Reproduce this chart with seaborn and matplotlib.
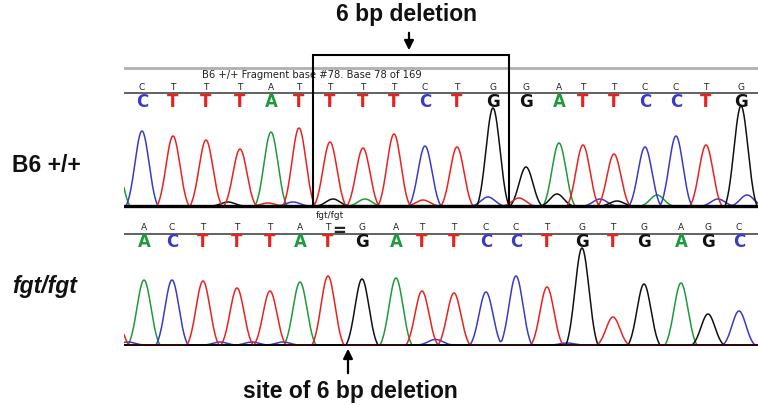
import numpy as np
import pandas as pd
import matplotlib.pyplot as plt
import seaborn as sns
from matplotlib.patches import Rectangle, FancyArrowPatch

# -------------------------------
# Data
# -------------------------------

# wild type (B6 +/+) called bases, peak scan positions and peak heights
top_bases = list("CTTTATTTTCTGGATTCCTG")
top_pos = [142, 173, 206, 240, 271, 299, 330, 363, 394, 425,
           457, 493, 526, 559, 583, 614, 645, 676, 706, 741]
top_height = [75, 70, 66, 57, 74, 78, 64, 58, 72, 60,
              59, 98, 39, 63, 61, 52, 59, 70, 61, 100]

# small background peaks in the wild type trace
top_minor_bases = ["A", "G", "T", "C", "G", "A", "T", "C", "T", "G", "C", "G", "A", "C", "C"]
top_minor_pos = [114, 228, 268, 293, 333, 365, 423, 488, 519, 557, 600, 617, 657, 718, 747]
top_minor_height = [60, 4, 3, 4, 7, 7, 6, 9, 8, 12, 7, 5, 11, 7, 11]

# mutant (fgt/fgt) trace
bot_bases = list("ACTTTATGATTCCTGTGAGC")
bot_pos = [144, 172, 203, 237, 270, 300, 328, 362, 396, 422,
           454, 486, 516, 547, 582, 613, 644, 681, 708, 739]
bot_height = [65, 65, 64, 57, 54, 63, 69, 66, 67, 54,
              52, 53, 69, 58, 97, 28, 61, 62, 31, 34]

bot_minor_bases = ["T", "C", "C", "C", "C", "C", "C", "C"]
bot_minor_pos = [113, 128, 220, 252, 283, 433, 438, 567]
bot_minor_height = [45, 3, 3, 3, 3, 3, 3, 2]

BASE_COLORS = {"A": "#1e9a3a", "C": "#3a3ac8", "G": "#111111", "T": "#e8231f"}

# -------------------------------
# Build traces
# -------------------------------

SIGMA = 7.0
REACH = 16.0
scan = np.arange(124, 758.5, 0.5)


def peak_shape(d):
    # gaussian cut down so it meets the baseline at +/- REACH
    g = np.exp(-0.5 * (d / SIGMA) ** 2)
    floor = np.exp(-0.5 * (REACH / SIGMA) ** 2)
    return np.clip((g - floor) / (1 - floor), 0, None)


def build_trace(bases, pos, height):
    rows = []
    for ch in "ACGT":
        sig = np.zeros_like(scan)
        for b, p, h in zip(bases, pos, height):
            if b == ch:
                sig += h * peak_shape(scan - p)
        rows.append(pd.DataFrame({"scan": scan, "signal": sig, "channel": ch}))
    return pd.concat(rows, ignore_index=True)


top_df = build_trace(top_bases + top_minor_bases,
                     top_pos + top_minor_pos,
                     top_height + top_minor_height)
bot_df = build_trace(bot_bases + bot_minor_bases,
                     bot_pos + bot_minor_pos,
                     bot_height + bot_minor_height)

# -------------------------------
# Figure
# -------------------------------

sns.set_theme(style="white")
plt.rcParams["font.family"] = ["Liberation Sans", "DejaVu Sans"]

W, H = 758, 406
fig = plt.figure(figsize=(W / 100, H / 100), dpi=100)


def fx(px):
    return px / W


def fy(py):
    return 1 - py / H


ax_top = fig.add_axes([fx(124), fy(212), fx(758) - fx(124), 160 / H])
ax_bot = fig.add_axes([fx(124), fy(351), fx(758) - fx(124), 151 / H])
for ax in (ax_top, ax_bot):
    ax.set_facecolor("none")
    ax.set_xlim(124, 758)
    ax.axis("off")
ax_top.set_ylim(-5, 155)
ax_bot.set_ylim(-5, 146)

sns.lineplot(data=top_df, x="scan", y="signal", hue="channel", palette=BASE_COLORS,
             estimator=None, legend=False, lw=1.1, ax=ax_top, zorder=2)
sns.lineplot(data=bot_df, x="scan", y="signal", hue="channel", palette=BASE_COLORS,
             estimator=None, legend=False, lw=1.1, ax=ax_bot, zorder=2)

ax_top.axhline(0, color="black", lw=2.4, zorder=3)
ax_bot.axhline(0, color="black", lw=1.1, zorder=3)

# base calls
small_font = dict(family="DejaVu Sans", fontsize=6.5, color="#222222",
                  ha="center", va="center")
big_font = dict(family="DejaVu Sans", fontsize=12, fontweight="bold",
                ha="center", va="center")

for b, p in zip(top_bases, top_pos):
    ax_top.text(p, 119, b, **small_font)
    ax_top.text(p, 105, b, color=BASE_COLORS[b], **big_font)
for b, p in zip(bot_bases, bot_pos):
    ax_bot.text(p, 118, b, **small_font)
    ax_bot.text(p, 104, b, color=BASE_COLORS[b], **big_font)

ax_top.axhline(113, color="#555555", lw=1.3, zorder=1)
ax_bot.axhline(111, color="#555555", lw=1.3, zorder=1)
ax_top.axhline(138, color="#b0b0b0", lw=2.0, zorder=1)

ax_top.text(202, 132, "B6 +/+ Fragment base #78. Base 78 of 169",
            family="DejaVu Sans", fontsize=7.2, color="#222222", va="center")
ax_bot.text(330, 131, "fgt/fgt", family="DejaVu Sans", fontsize=6.5,
            color="#222222", ha="center", va="center")
ax_bot.text(339, 115, "=", family="DejaVu Sans", fontsize=12, fontweight="bold",
            ha="center", va="center")

# deleted region box
ax_top.add_patch(Rectangle((313, 0), 196, 151, fill=False, ec="black",
                           lw=1.5, clip_on=False, zorder=4))

# -------------------------------
# Labels and arrows
# -------------------------------

label_font = dict(fontsize=16.5, fontweight="bold", color="#111111")
fig.text(fx(12), fy(166), "B6 +/+", va="center", ha="left", **label_font)
fig.text(fx(12), fy(287), "fgt/fgt", va="center", ha="left", style="italic", **label_font)
fig.text(fx(406), fy(15), "6 bp deletion", va="center", ha="center", **label_font)
fig.text(fx(350), fy(392), "site of 6 bp deletion", va="center", ha="center", **label_font)

arrow = dict(arrowstyle="-|>", color="black", lw=1.6, mutation_scale=14)
fig.add_artist(FancyArrowPatch((fx(409), fy(31)), (fx(409), fy(54)),
                               transform=fig.transFigure, **arrow))
fig.add_artist(FancyArrowPatch((fx(348), fy(377)), (fx(348), fy(347)),
                               transform=fig.transFigure, **arrow))

fig.savefig("out.png", dpi=100)
